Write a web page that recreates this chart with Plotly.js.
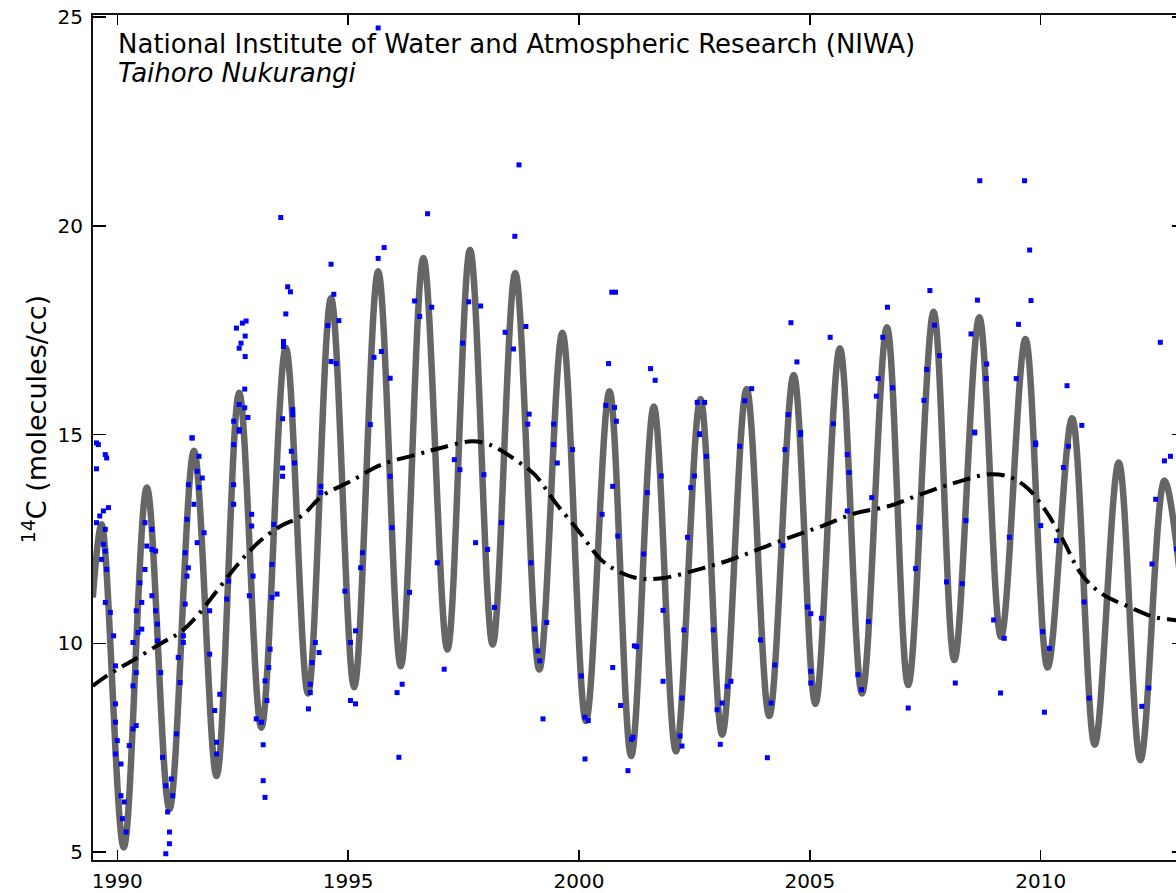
<!DOCTYPE html>
<html>
<head>
<meta charset="utf-8">
<script src="https://cdn.plot.ly/plotly-3.0.1.min.js"></script>
<style>
html,body{margin:0;padding:0;overflow:hidden;background:#fff;}
#chart{width:1200px;height:893px;}
</style>
</head>
<body>
<div id="chart"></div>
<script>
// Seasonal fit curve: extrema (year, 14C molecules/cc)
const fitYears = [1989.47,1989.66,1990.14,1990.64,1991.13,1991.66,1992.15,1992.64,1993.12,1993.65,1994.13,1994.63,1995.13,1995.65,1996.14,1996.63,1997.15,1997.64,1998.13,1998.62,1999.14,1999.64,2000.15,2000.66,2001.13,2001.62,2002.10,2002.63,2003.10,2003.63,2004.12,2004.65,2005.12,2005.65,2006.13,2006.67,2007.13,2007.68,2008.13,2008.67,2009.14,2009.67,2010.15,2010.68,2011.17,2011.69,2012.16,2012.68,2013.12];
const fitValues = [11.1,12.85,5.11,13.73,6.03,14.61,6.82,16.0,7.98,17.08,8.8,18.27,8.95,18.91,9.45,19.23,9.85,19.43,9.97,18.87,9.37,17.44,8.14,16.04,7.30,15.67,7.41,15.85,7.81,16.09,8.26,16.43,8.55,17.07,8.80,17.57,9.0,17.94,9.60,17.81,10.15,17.29,9.42,15.39,7.57,14.33,7.20,13.90,10.5];

// Long-term trend (dash-dot line)
const trendYears = [1989.47,1989.77,1990.38,1990.98,1991.36,1991.73,1992.18,1992.64,1993.09,1993.54,1993.99,1994.44,1995.05,1995.72,1996.48,1997.00,1997.68,1998.06,1998.51,1999.04,1999.49,2000.02,2000.47,2000.84,2001.22,2001.74,2002.65,2003.33,2004.00,2004.68,2005.29,2005.97,2006.72,2007.40,2008.15,2008.91,2009.36,2009.74,2010.11,2010.49,2010.87,2011.32,2011.92,2012.45,2012.90,2013.12];
const trendValues = [8.98,9.22,9.62,10.02,10.26,10.66,11.29,11.93,12.45,12.81,13.05,13.53,13.88,14.28,14.52,14.68,14.84,14.76,14.48,14.04,13.37,12.65,12.01,11.73,11.57,11.55,11.79,12.02,12.30,12.58,12.82,13.11,13.29,13.57,13.85,14.05,13.97,13.69,13.17,12.46,11.67,11.19,10.87,10.63,10.56,10.52];

// Individual measurements (blue points)
const obsYears = [
1995.65,1993.54,1996.72,1998.70,1998.61,1995.78,1995.65,1994.63,1993.69,1993.75,1993.65,2000.71,2000.79,1994.69,1996.44,1996.81,1997.61,1997.87,1996.55,1998.85,1998.40,1994.80,1994.56,1992.79,1992.71,1992.58,1992.77,1992.68,1992.64,1992.77,1993.60,1993.60,1997.48,1998.58,1995.56,1995.72,1994.63,1994.74,2000.64,1995.91,1992.76,1992.64,1992.76,1992.52,1992.83,1992.64,1993.58,1993.80,1993.80,1995.48,1998.92,1998.89,1999.45,2000.58,2000.77,2000.81,1991.62,1989.55,
2008.68,2009.65,2009.76,2007.60,2008.63,2009.79,2006.68,2009.52,2004.59,2007.70,2005.44,2008.49,2012.59,2001.55,2001.65,2004.72,2006.58,2008.83,2007.81,2007.53,2006.48,2006.79,2009.47,2008.82,2010.57,2006.44,2007.47,2002.56,2002.72,2003.59,2003.74,2002.61,2004.53,2004.80,2005.51,2008.57,2010.89,2009.89,
1989.59,1989.74,1989.77,1989.55,1989.81,1989.70,1989.62,1989.55,1989.74,1989.70,1989.74,1989.66,1989.77,1989.74,1989.85,1989.92,1989.96,1989.96,1989.96,1990.00,1989.96,1990.08,1990.08,1990.15,1990.11,1990.19,1990.26,1990.34,1990.41,1990.34,1990.41,1990.34,1990.45,1990.53,1990.41,1990.53,1990.49,1990.60,1990.64,1990.75,1990.83,1990.60,1990.75,1990.75,1990.83,1990.87,1990.87,1990.94,1990.98,1991.05,1991.09,1991.13,1991.13,1991.05,1991.20,1991.17,1991.28,1991.36,1991.32,1991.43,1991.43,1991.47,1991.51,1991.54,1991.47,1991.51,1991.54,1991.62,1991.77,1991.73,1991.84,1991.77,1991.66,1991.73,1991.88,1992.00,1992.00,1992.11,1992.15,1992.15,1992.22,1992.37,1992.41,1992.52,1992.52,1992.52,1992.64,1992.91,1992.91,1992.94,1992.86,1993.01,1993.12,1993.16,1993.16,1993.20,1993.24,1993.20,1993.28,1993.31,1993.35,1993.46,1993.35,1993.39,1993.58,1993.58,1993.77,1993.84,
1994.22,1994.18,1994.18,1994.14,1994.29,1994.37,1994.41,1994.41,1994.93,1995.05,1995.16,1995.05,1995.16,1995.27,1995.31,1995.91,1995.95,1996.06,1996.17,1996.10,1996.33,1996.93,1997.08,1997.30,1997.42,1997.76,1997.94,1998.02,1998.17,1998.32,1998.96,1999.04,1999.11,1999.15,1999.22,1999.30,1999.45,1999.53,1999.86,2000.05,2000.13,2000.20,2000.13,2000.50,2000.73,2000.84,2000.73,2000.90,2001.06,2001.17,2001.20,
2002.61,2002.76,2002.50,2002.42,2002.35,2001.78,2001.48,2001.40,2001.82,2001.25,2001.82,2002.23,2002.19,2002.23,2001.14,2002.27,2002.91,2002.99,2003.06,2003.10,2003.21,2003.29,2003.48,2003.93,2004.08,2004.16,2004.24,2004.42,2004.46,2004.80,2004.95,2005.02,2005.25,2005.02,2005.02,2005.81,2005.85,2005.81,2006.04,2006.12,2006.27,2006.34,2007.13,2007.29,2007.36,2007.96,2008.15,2008.30,2008.38,2008.57,2008.98,2009.13,2009.21,2009.32,2009.89,2010.00,2010.04,2010.19,2010.08,2010.34,2010.49,2010.60,2010.94,2011.05,2012.19,2012.34,2012.41,2012.49,2012.68,2012.81,2012.94
];
const obsValues = [
24.74,20.2,20.29,21.46,19.75,19.48,19.22,19.08,18.54,18.42,17.89,18.41,18.41,18.36,18.2,18.05,18.18,18.08,17.83,17.59,17.45,17.73,17.61,17.72,17.67,17.55,17.36,17.19,17.07,16.87,17.23,17.11,17.19,17.05,16.85,16.99,16.75,16.70,16.70,16.35,16.09,15.72,15.64,15.32,15.41,15.12,15.38,15.60,15.48,15.24,15.49,15.25,15.25,15.70,15.65,15.32,14.92,14.80,
21.08,21.08,19.42,18.45,18.22,18.21,18.05,17.64,17.68,17.62,17.33,17.41,17.21,16.58,16.30,16.74,17.33,16.69,16.89,16.56,16.34,16.12,16.34,16.34,16.17,15.92,15.82,15.77,15.77,15.81,16.10,15.02,15.48,15.05,15.26,15.06,15.22,14.80,
14.76,14.52,14.44,14.18,13.25,13.17,13.05,12.89,12.73,12.37,12.21,12.01,11.77,10.98,10.74,10.18,9.46,8.55,8.11,7.67,7.35,7.11,6.35,6.20,5.80,5.48,7.55,7.95,8.03,8.98,9.30,10.02,10.26,10.34,10.78,10.98,11.45,11.77,12.33,12.25,12.21,12.89,12.73,11.14,10.78,10.46,10.06,9.30,7.27,6.59,5.96,5.48,5.20,4.96,6.35,6.75,7.83,9.06,9.66,10.18,10.02,10.94,11.61,11.81,12.17,12.97,13.80,14.92,14.48,14.12,13.96,13.73,13.33,12.41,12.65,10.78,9.74,8.39,7.63,7.35,8.78,11.06,11.49,13.80,13.33,14.76,15.08,13.09,12.81,11.61,11.14,8.19,8.11,7.57,6.71,6.31,8.63,9.10,9.42,9.86,11.10,11.18,11.89,12.85,14.0,14.20,14.60,14.32,
9.54,9.02,8.82,8.43,10.02,9.78,13.76,13.61,11.25,8.63,8.55,10.02,10.30,11.81,12.17,14.0,12.77,8.82,9.02,7.27,11.22,11.93,9.38,14.40,14.16,12.41,14.04,12.25,10.86,12.89,11.93,10.34,9.82,9.58,8.19,10.50,14.76,14.32,14.64,9.22,8.23,8.15,7.23,13.09,13.76,12.57,9.42,8.51,6.95,7.75,9.94,
15.0,14.48,14.01,13.73,12.54,14.01,13.61,12.14,10.79,9.92,9.09,8.69,7.78,7.54,7.70,10.32,10.32,8.41,7.58,8.57,8.97,9.09,14.72,10.08,7.26,8.57,9.48,12.34,14.64,15.0,10.87,10.71,10.60,9.33,9.05,14.52,14.09,13.17,9.25,8.89,10.52,13.49,8.45,11.79,12.78,11.47,9.05,11.43,12.94,15.04,10.56,8.81,10.12,12.54,14.76,12.82,10.28,9.88,8.35,12.46,14.21,14.72,10.99,8.69,8.49,8.93,11.90,13.45,14.37,14.48,12.26
];

const xTickVals = [1990,1995,2000,2005,2010];
const xTickText = ['1990','1995','2000','2005','2010'];
const yTickVals = [5,10,15,20,25];
const yTickText = ['5','10','15','20','25'];

const traces = [
  {x: fitYears, y: fitValues, type: 'scatter', mode: 'lines',
   line: {color: '#666666', width: 6.5, shape: 'spline', smoothing: 1.0},
   hoverinfo: 'skip', showlegend: false},
  {x: obsYears, y: obsValues, type: 'scatter', mode: 'markers',
   marker: {color: '#0000ff', size: 5, symbol: 'square', line: {width: 0}},
   showlegend: false},
  {x: trendYears, y: trendValues, type: 'scatter', mode: 'lines',
   line: {color: '#000000', width: 4, dash: '18px,7px,3px,7px', shape: 'spline'},
   showlegend: false}
];

const axisFont = {family: 'DejaVu Sans', size: 20, color: '#000'};

const layout = {
  width: 1200, height: 893,
  margin: {l: 93, r: 15, t: 15, b: 33, pad: 0},
  paper_bgcolor: '#fff', plot_bgcolor: '#fff',
  showlegend: false,
  xaxis: {
    range: [1989.474, 2013.125], autorange: false,
    tickmode: 'array', tickvals: xTickVals, ticktext: xTickText,
    ticks: 'inside', ticklen: 10, tickwidth: 1.5, tickcolor: '#000',
    showline: true, linecolor: '#111', linewidth: 2, mirror: 'ticks',
    showgrid: false, zeroline: false,
    tickfont: axisFont, ticklabelstandoff: 2
  },
  yaxis: {
    range: [4.81, 25.05], autorange: false,
    tickmode: 'array', tickvals: yTickVals, ticktext: yTickText,
    ticks: 'inside', ticklen: 13, tickwidth: 1.5, tickcolor: '#000',
    showline: true, linecolor: '#111', linewidth: 2, mirror: 'ticks',
    showgrid: false, zeroline: false,
    tickfont: axisFont, ticklabelstandoff: 4
  },
  annotations: [
    {text: 'National Institute of Water and Atmospheric Research (NIWA)',
     xref: 'paper', yref: 'paper', x: 0.021, y: 0.9655, xanchor: 'left', yanchor: 'middle',
     showarrow: false, font: {family: 'DejaVu Sans', size: 26, color: '#000'}},
    {text: '<i>Taihoro Nukurangi</i>',
     xref: 'paper', yref: 'paper', x: 0.021, y: 0.9315, xanchor: 'left', yanchor: 'middle',
     showarrow: false, font: {family: 'DejaVu Sans', size: 26, color: '#000'}},
    {text: '<sup>14</sup>C (molecules/cc)',
     xref: 'paper', yref: 'paper', x: -0.0535, y: 0.521, xanchor: 'center', yanchor: 'middle',
     textangle: -90, showarrow: false, font: {family: 'DejaVu Sans', size: 27, color: '#000'}}
  ]
};

Plotly.newPlot('chart', traces, layout, {staticPlot: true, displayModeBar: false});
</script>
</body>
</html>
